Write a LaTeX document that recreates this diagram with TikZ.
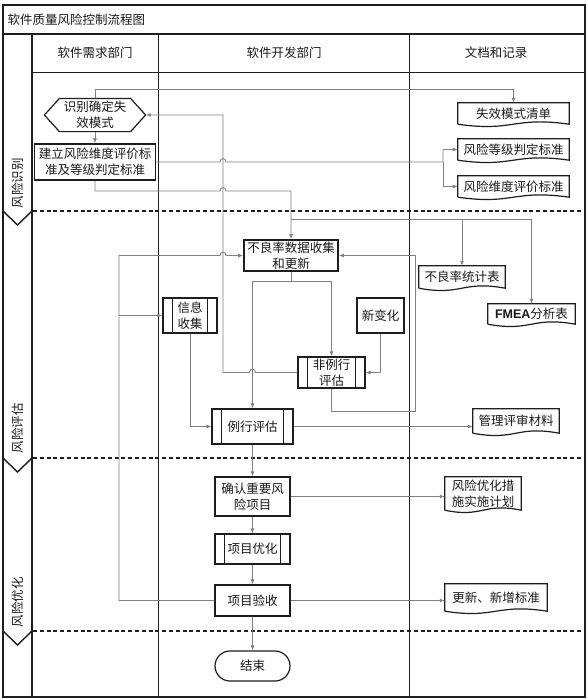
\documentclass[tikz,border=0pt]{standalone}
\usepackage{fontspec}
\setmainfont{Noto Sans CJK SC}
\newfontfamily\latinsans{Liberation Sans}
\usetikzlibrary{arrows.meta,calc}
\definecolor{framec}{HTML}{1E1E1E}
\definecolor{boxc}{HTML}{1E1E1E}
\definecolor{connc}{HTML}{808080}
\definecolor{txt}{HTML}{1A1A1A}
\newcommand\mydocframe[1]{\draw[docline] (#1.south west) -- (#1.north west) -- (#1.north east) -- (#1.south east) .. controls ($(#1.south)+(0,-8)$) and ($(#1.south)+(0,8)$) .. (#1.south west);}
\begin{document}
\begin{tikzpicture}[x=1pt,y=-1pt,
  every node/.style={font=\fontsize{12.5}{16}\selectfont, text=txt},
  frame/.style={draw=framec, line width=1.4pt},
  thinframe/.style={draw=framec, line width=0.9pt},
  sepline/.style={draw=framec, line width=2pt, dash pattern=on 4pt off 2.8pt},
  box/.style={draw=boxc, line width=1.2pt, inner sep=0pt, align=center, fill=white},
  thickbox/.style={box, line width=1.7pt},
  predef/.style={box, path picture={\draw[draw=boxc,line width=1.2pt]
      ([xshift=9.5pt]path picture bounding box.north west) -- ([xshift=9.5pt]path picture bounding box.south west)
      ([xshift=-9.5pt]path picture bounding box.north east) -- ([xshift=-9.5pt]path picture bounding box.south east);}},
  term/.style={box, rounded corners=15pt},
  docn/.style={inner sep=0pt, align=center},
  docline/.style={draw=boxc, line width=1.2pt},
  conn/.style={draw=connc, line width=0.9pt, -{Latex[length=5pt,width=4pt]}},
  plain/.style={draw=connc, line width=0.9pt},
]
\fill[white] (0,0) rectangle (588,699);
\useasboundingbox (0,0) rectangle (588,699);

% ---- frame ----
\draw[frame] (3,5) rectangle (585,697);
\draw[frame] (3,34) -- (585,34);
\draw[thinframe] (32,72) -- (585,72);
\draw[frame] (32,34) -- (32,697);
\draw[thinframe] (158,34) -- (158,697);
\draw[thinframe] (409,34) -- (409,697);
\foreach \yy in {211,458,631} {
  \draw[sepline] (33,\yy) -- (585,\yy);
  \draw[frame] (3,\yy) -- (17.5,\yy+14) -- (32,\yy);
}

% ---- headers ----
\node[anchor=west] (title) at (4,20) {软件质量风险控制流程图};
\node (h1) at (95,53) {软件需求部门};
\node (h2) at (284,53) {软件开发部门};
\node (h3) at (496,53) {文档和记录};
\node[rotate=90] (p1) at (17.5,183) {风险识别};
\node[rotate=90] (p2) at (17.5,428) {风险评估};
\node[rotate=90] (p3) at (17.5,602) {风险优化};

% ---- process nodes ----
\node[box, draw=none, fill=none, minimum width=100pt, minimum height=32pt] (hex) at (95,115) {识别确定失\\效模式};
\draw[docline] (hex.west) -- ([xshift=15pt]hex.north west) -- ([xshift=-15pt]hex.north east) -- (hex.east)
   -- ([xshift=-15pt]hex.south east) -- ([xshift=15pt]hex.south west) -- cycle;
\node[thickbox, minimum width=121pt, minimum height=36pt] (jl) at (95,162) {建立风险维度评价标\\准及等级判定标准};
\node[thickbox, minimum width=94pt, minimum height=31pt] (bl) at (291,255.5) {不良率数据收集\\和更新};
\node[predef, minimum width=54pt, minimum height=35pt] (xx) at (190,315.5) {信息\\收集};
\node[box, minimum width=47pt, minimum height=35pt] (xbh) at (380.5,315.5) {新变化};
\node[predef, minimum width=67pt, minimum height=31pt] (fl) at (331.5,372.5) {非例行\\评估};
\node[predef, minimum width=81pt, minimum height=35pt] (lx) at (252.5,426.5) {例行评估};
\node[box, minimum width=75pt, minimum height=39pt] (qr) at (252.5,496.5) {确认重要风\\险项目};
\node[predef, minimum width=75pt, minimum height=30pt] (xy) at (252.5,549) {项目优化};
\node[box, minimum width=75pt, minimum height=31pt] (ys) at (252.5,600.5) {项目验收};
\node[term, minimum width=75pt, minimum height=30pt] (js) at (252.5,666) {结束};

% ---- document nodes ----
\node[docn, minimum width=111pt, minimum height=21pt] (d1) at (513.5,113.5) {失效模式清单};
\node[docn, minimum width=111pt, minimum height=21pt] (d2) at (513.5,149.5) {风险等级判定标准};
\node[docn, minimum width=111pt, minimum height=21pt] (d3) at (513.5,186.5) {风险维度评价标准};
\node[docn, minimum width=86pt, minimum height=22pt] (d4) at (462,277) {不良率统计表};
\node[docn, minimum width=87pt, minimum height=20pt] (d5) at (531.5,314) {{\latinsans\bfseries FMEA}分析表};
\node[docn, minimum width=86pt, minimum height=24pt] (d6) at (516,421) {管理评审材料};
\node[docn, minimum width=76pt, minimum height=33pt] (d7) at (483,493.5) {风险优化措\\施实施计划};
\node[docn, minimum width=102pt, minimum height=27pt] (d8) at (496,597.5) {更新、新增标准};
\foreach \d in {d1,d2,d3,d4,d5,d6,d7,d8} {\mydocframe{\d}}

% ---- connectors ----
\coordinate (j1) at (291,219);
\coordinate (j2) at (291,281);
\coordinate (j3) at (443,162);
\coordinate (j4) at (119,315.5);

\draw[conn] (hex.north) -- (95,89) -| (d1.north);
\draw[conn] (hex.south) -- (jl.north);
\draw[conn] (jl.east) -- (220,162) .. controls (220,157.5) and (226,157.5) .. (226,162) -- (j3) |- (d2.west);
\draw[conn] (j3) |- (d3.west);
\draw[conn] (jl.south) -- (95,191) -- (220,191) .. controls (220,186.5) and (226,186.5) .. (226,191) -- (291,191) -- (bl.north);
\draw[conn] (j1) -| (d5.north);
\draw[conn] (j1 -| d4.north) -- (d4.north);
\draw[conn] (bl.south) -- (j2) -| (fl.north);
\draw[conn] (j2) -| (lx.north);
\draw[conn] (fl.west) -- (255.5,372.5) .. controls (255.5,368) and (249.5,368) .. (249.5,372.5) -- (223,372.5) -- (223,115) -- (hex.east);
\draw[conn] (xbh.south) |- (fl.east);
\draw[conn] (fl.south) |- (415,411) |- (bl.east);
\draw[conn] (xx.south) |- (lx.west);
\draw[conn] (ys.west) -- (119,600.5) -- (119,255.5) -- (220,255.5) .. controls (220,251) and (226,251) .. (226,255.5) -- (bl.west);
\draw[conn] (j4) -- (xx.west);
\draw[conn] (lx.east) -- (lx.east -| d6.west);
\draw[conn] (lx.south) -- (qr.north);
\draw[conn] (qr.south) -- (xy.north);
\draw[conn] (xy.south) -- (ys.north);
\draw[conn] (ys.south) -- (js.north);
\draw[conn] (qr.east) -- (qr.east -| d7.west);
\draw[conn] (ys.east) -- (ys.east -| d8.west);
\end{tikzpicture}
\end{document}
